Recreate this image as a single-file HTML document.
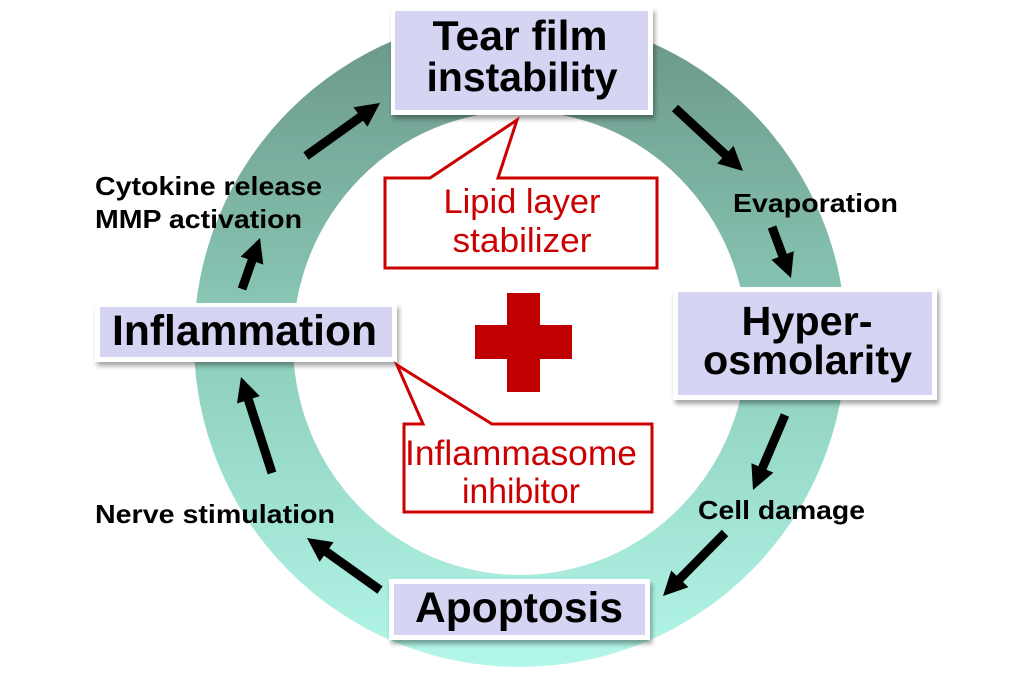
<!DOCTYPE html>
<html>
<head>
<meta charset="utf-8">
<style>
  html, body { margin: 0; padding: 0; background: #ffffff; }
  body { width: 1024px; height: 682px; overflow: hidden; }
  svg { display: block; }
  .big { font-family: "Liberation Sans", Arial, sans-serif; font-weight: bold; fill: #000; }
  .sm { font-family: "Liberation Sans", Arial, sans-serif; font-weight: bold; font-size: 26px; fill: #000; }
  .red { font-family: "Liberation Sans", Arial, sans-serif; fill: #cc0000; }
</style>
</head>
<body>
<svg width="1024" height="682" viewBox="0 0 1024 682" xmlns="http://www.w3.org/2000/svg">
  <defs>
    <linearGradient id="ringGrad" gradientUnits="userSpaceOnUse" x1="0" y1="15" x2="0" y2="667">
      <stop offset="0" stop-color="#6a9588"/>
      <stop offset="0.5" stop-color="#8cccba"/>
      <stop offset="1" stop-color="#b3f7e9"/>
    </linearGradient>
    <filter id="sh" x="-10%" y="-20%" width="120%" height="150%">
      <feDropShadow dx="2" dy="4" stdDeviation="2.5" flood-color="#000" flood-opacity="0.35"/>
    </filter>
  </defs>

  <!-- Ring -->
  <path fill="url(#ringGrad)" fill-rule="evenodd"
        d="M194,341 a326,326 0 1,0 652,0 a326,326 0 1,0 -652,0 Z
           M293,343 a227,232 0 1,0 454,0 a227,232 0 1,0 -454,0 Z"/>

  <!-- Arrows -->
  <g fill="#000">
    <polygon points="308.6,159.7 363.1,120.7 367.5,126.8 380,103 353.5,107.2 357.9,113.3 303.4,152.3"/>
    <polygon points="246.2,290.5 256.2,262.1 263.3,264.6 260,238 240.7,256.6 247.8,259.1 237.8,287.5"/>
    <polygon points="671.9,111.3 722.3,158.0 717.2,163.5 743,171 733.6,145.9 728.5,151.4 678.1,104.7"/>
    <polygon points="767.8,228.6 778.4,257.1 771.4,259.7 791,278 793.8,251.3 786.8,253.9 776.2,225.4"/>
    <polygon points="780.9,413.2 758.3,466.1 751.4,463.2 753,490 773.4,472.6 766.5,469.7 789.1,416.8"/>
    <polygon points="721.8,529.8 676.6,575.7 671.2,570.5 663,596 688.4,587.3 683.0,582.0 728.2,536.2"/>
    <polygon points="382.6,586.3 329.2,548.2 333.6,542.1 307,538 319.6,561.7 324.0,555.6 377.4,593.7"/>
    <polygon points="276.3,471.6 252.7,398.4 259.8,396.1 241,377 237.0,403.5 244.1,401.2 267.7,474.4"/>
  </g>

  <!-- Boxes -->
  <g filter="url(#sh)">
    <rect x="391" y="7" width="262" height="108" fill="#ffffff"/>
  </g>
  <rect x="395" y="11" width="253" height="99" fill="#d5d4f3"/>
  <text class="big" x="520" y="50" font-size="42" text-anchor="middle" textLength="175" lengthAdjust="spacingAndGlyphs">Tear film</text>
  <text class="big" x="522" y="91" font-size="41" text-anchor="middle" textLength="191" lengthAdjust="spacingAndGlyphs">instability</text>

  <g filter="url(#sh)">
    <rect x="673" y="287" width="264" height="113" fill="#ffffff"/>
  </g>
  <rect x="678" y="292" width="254" height="103" fill="#d5d4f3"/>
  <text class="big" x="807" y="335" font-size="41" text-anchor="middle" textLength="131" lengthAdjust="spacingAndGlyphs">Hyper-</text>
  <text class="big" x="807.5" y="374" font-size="41" text-anchor="middle" textLength="209" lengthAdjust="spacingAndGlyphs">osmolarity</text>

  <g filter="url(#sh)">
    <rect x="95" y="303" width="302" height="59" fill="#ffffff"/>
  </g>
  <rect x="100" y="307" width="292" height="50" fill="#d5d4f3"/>
  <text class="big" x="244.5" y="345" font-size="42.5" text-anchor="middle" textLength="265" lengthAdjust="spacingAndGlyphs">Inflammation</text>

  <g filter="url(#sh)">
    <rect x="389" y="579" width="261" height="61" fill="#ffffff"/>
  </g>
  <rect x="394" y="584" width="251" height="51" fill="#d5d4f3"/>
  <text class="big" x="519" y="622" font-size="42.5" text-anchor="middle" textLength="208" lengthAdjust="spacingAndGlyphs">Apoptosis</text>

  <!-- Callouts -->
  <path d="M385,178 L430,178 L517,120 L498,178 L657,178 L657,268 L385,268 Z"
        fill="#ffffff" stroke="#cc0000" stroke-width="3" stroke-linejoin="miter"/>
  <text class="red" x="522" y="213" font-size="34" text-anchor="middle" textLength="157" lengthAdjust="spacingAndGlyphs">Lipid layer</text>
  <text class="red" x="522" y="252" font-size="34" text-anchor="middle" textLength="139" lengthAdjust="spacingAndGlyphs">stabilizer</text>

  <path d="M404,424 L423,424 L397,365 L492,424 L652,424 L652,512 L404,512 Z"
        fill="#ffffff" stroke="#cc0000" stroke-width="3" stroke-linejoin="miter"/>
  <text class="red" x="521" y="465" font-size="35" text-anchor="middle" textLength="232" lengthAdjust="spacingAndGlyphs">Inflammasome</text>
  <text class="red" x="521" y="503" font-size="35" text-anchor="middle" textLength="118" lengthAdjust="spacingAndGlyphs">inhibitor</text>

  <!-- Red cross -->
  <rect x="507" y="293" width="33" height="99" fill="#c00000"/>
  <rect x="475" y="325" width="97" height="34" fill="#c00000"/>

  <!-- Small labels -->
  <text class="sm" x="95" y="195" textLength="227" lengthAdjust="spacingAndGlyphs">Cytokine release</text>
  <text class="sm" x="95" y="228" textLength="207" lengthAdjust="spacingAndGlyphs">MMP activation</text>
  <text class="sm" x="733" y="212" textLength="165" lengthAdjust="spacingAndGlyphs">Evaporation</text>
  <text class="sm" x="698" y="519" textLength="167" lengthAdjust="spacingAndGlyphs">Cell damage</text>
  <text class="sm" x="95" y="523" textLength="240" lengthAdjust="spacingAndGlyphs">Nerve stimulation</text>
</svg>
</body>
</html>
